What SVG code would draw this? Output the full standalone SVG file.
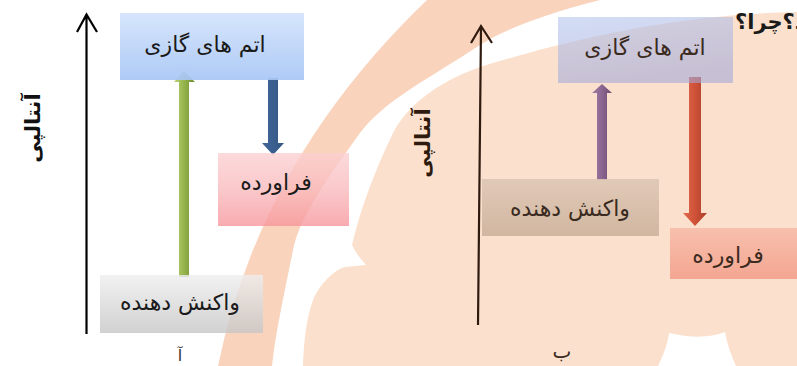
<svg xmlns="http://www.w3.org/2000/svg" width="797" height="366" viewBox="0 0 797 366">
<style>
.t{font-family:"DejaVu Sans","Noto Sans",sans-serif;font-size:22px;fill:#1a1a1a;text-anchor:middle}
.tr{font-family:"DejaVu Sans","Noto Sans",sans-serif;font-size:22px;fill:#3a2a20;text-anchor:middle}
.lbl{font-family:"DejaVu Sans","Noto Sans",sans-serif;font-size:21px;font-weight:bold;fill:#111;text-anchor:middle}
.axis{fill:none;stroke:#000;stroke-width:2.2}
.axisr{fill:none;stroke:#2e1a0e;stroke-width:2.2}
</style>
<defs>
<linearGradient id="gBlue" x1="0" y1="0" x2="0" y2="1"><stop offset="0" stop-color="#d3e3fc"/><stop offset="1" stop-color="#a7c6f5"/></linearGradient>
<linearGradient id="gPink" x1="0" y1="0" x2="0" y2="1"><stop offset="0" stop-color="#fbcfd1"/><stop offset="0.5" stop-color="#f9b9bc"/><stop offset="1" stop-color="#f6949a"/></linearGradient>
<linearGradient id="gGray" x1="0" y1="0" x2="0" y2="1"><stop offset="0" stop-color="#eeeeee"/><stop offset="1" stop-color="#c6c6c6"/></linearGradient>
<linearGradient id="gLav" x1="0" y1="0" x2="0.3" y2="1"><stop offset="0" stop-color="#b6c6ef"/><stop offset="1" stop-color="#a4a9d8"/></linearGradient>
<linearGradient id="gTan" x1="0" y1="0" x2="0" y2="1"><stop offset="0" stop-color="#ddc7b5"/><stop offset="1" stop-color="#cdb29c"/></linearGradient>
<linearGradient id="gSal" x1="0" y1="0" x2="0" y2="1"><stop offset="0" stop-color="#f7bca9"/><stop offset="1" stop-color="#f3a08b"/></linearGradient>
<linearGradient id="gGreen" x1="0" y1="0" x2="1" y2="0"><stop offset="0" stop-color="#b9d374"/><stop offset="0.5" stop-color="#93b24a"/><stop offset="1" stop-color="#6f8c2e"/></linearGradient>
<linearGradient id="gNavy" x1="0" y1="0" x2="1" y2="0"><stop offset="0" stop-color="#41669a"/><stop offset="1" stop-color="#345783"/></linearGradient>
<linearGradient id="gPurp" x1="0" y1="0" x2="1" y2="0"><stop offset="0" stop-color="#a27ea3"/><stop offset="0.5" stop-color="#8a6590"/><stop offset="1" stop-color="#6d4c70"/></linearGradient>
<linearGradient id="gRed" x1="0" y1="0" x2="1" y2="0"><stop offset="0" stop-color="#e06a4c"/><stop offset="0.5" stop-color="#cf5238"/><stop offset="1" stop-color="#aa3d29"/></linearGradient>
</defs>

<g id="background">
<rect x="0" y="0" width="797" height="366" fill="#ffffff"/>
<path d="M 427,0 Q 260,160 218,366 L 272,366 C 276,330 284,295 293,250 C 300,215 330,175 360,133 C 385,100 430,78 480,45 C 500,32 540,15 600,0 Z" fill="#fad3bd"/>
<path d="M 797,12 C 700,14 600,30 480,67 C 430,85 405,110 393,133 C 375,170 360,210 352,245 C 356,254 362,260 366,265 L 345,267 C 330,272 318,288 313,300 C 306,320 304,340 303,366 L 797,366 Z" fill="#fbe1cd"/>
<path d="M 658,366 C 664,354 668,342 669,333 C 690,338 710,338 725,332 C 727,344 731,355 736,366 Z" fill="#ffffff"/>
</g>

<g id="connectors">
<path class="axis" d="M 86.5,334 L 86.5,15 M 77,32 L 86.5,14.5 L 97,32"/>
<path class="axisr" d="M 478,325 L 481,27 M 471,43 L 481,26 L 492,43"/>
<polygon id="arrow-green" points="179,277 179,82 174,82 184,71 195,82 189,82 189,277" fill="url(#gGreen)"/>
<polygon id="arrow-navy" points="268,78 278,78 278,143 284,143 273,155 262,143 268,143" fill="url(#gNavy)"/>
<polygon id="arrow-purple" points="597,180 597,93 592,93 602,84 612,93 607,93 607,180" fill="url(#gPurp)"/>
<polygon id="arrow-red" points="689,77 701,77 701,213 707,213 695,226 683,213 689,213" fill="url(#gRed)"/>
</g>

<g id="node-gas-a">
<rect x="120" y="13" width="184" height="67" fill="url(#gBlue)" opacity="0.92"/>
<text class="t" x="205" y="52">اتم های گازی</text>
</g>
<g id="node-product-a">
<rect x="218" y="153" width="131" height="73" fill="url(#gPink)" opacity="0.78"/>
<text class="t" x="276" y="190">فراورده</text>
</g>
<g id="node-reactant-a">
<rect x="100" y="275" width="163" height="58" fill="url(#gGray)" opacity="0.8"/>
<text class="t" x="180" y="310">واکنش دهنده</text>
</g>
<g id="node-gas-b">
<rect x="558" y="17" width="175" height="66" fill="url(#gLav)" opacity="0.6"/>
<text class="tr" x="645" y="55">اتم های گازی</text>
</g>
<g id="node-reactant-b">
<rect x="482" y="179" width="177" height="57" fill="url(#gTan)" opacity="0.9"/>
<text class="tr" x="570" y="216">واکنش دهنده</text>
</g>
<g id="node-product-b">
<rect x="670" y="228" width="127" height="51" fill="url(#gSal)" opacity="0.9"/>
<text class="tr" x="728" y="263">فراورده</text>
</g>

<g id="labels">
<text class="lbl" transform="translate(40,128) rotate(-90)">آنتالپی</text>
<text class="lbl" style="fill:#2e1a0e" transform="translate(430,143) rotate(-90)">آنتالپی</text>
<text class="t" x="180" y="361" style="font-size:16px;fill:#333">آ</text>
<text class="tr" x="562" y="358" style="font-size:20px">ب</text>
<text x="735" y="29" style="font-family:'DejaVu Sans',sans-serif;font-size:21px;font-weight:bold;fill:#1a1a1a">د؟چرا؟</text>
</g>
</svg>
